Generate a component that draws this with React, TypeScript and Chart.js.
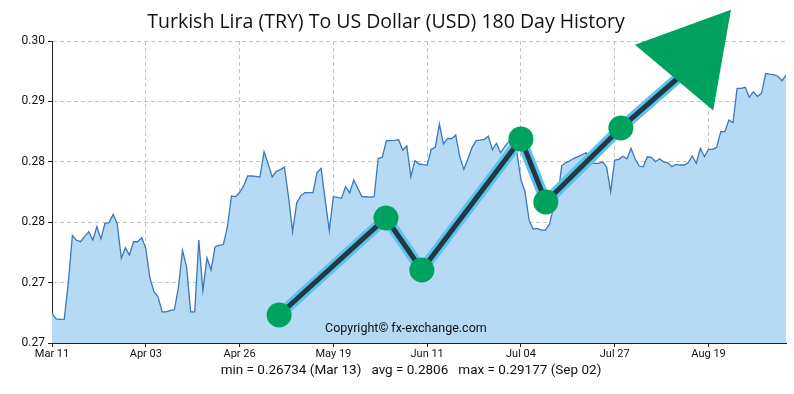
import React, { useEffect, useRef } from "react";
import { Chart, registerables } from "chart.js";

Chart.register(...registerables);

const TITLE = "Turkish Lira (TRY) To US Dollar (USD) 180 Day History";
const STATS = "min = 0.26734 (Mar 13)   avg = 0.2806   max = 0.29177 (Sep 02)";
const COPYRIGHT = "Copyright\u00A9 fx-exchange.com";

// daily TRY->USD rates, day 0 = Mar 11
const rates = [
  0.26795, 0.2674, 0.26734, 0.26736, 0.271, 0.2757, 0.2752, 0.27506, 0.27556, 0.27606,
  0.27523, 0.27655, 0.27533, 0.27689, 0.27696, 0.27778, 0.27682, 0.27341, 0.27447, 0.27374,
  0.27506, 0.27506, 0.27546, 0.2744, 0.2715, 0.2701, 0.2696, 0.2681, 0.2681, 0.26825,
  0.26828, 0.2705, 0.2742, 0.27258, 0.2681, 0.2681, 0.27523, 0.2702, 0.27345, 0.27225,
  0.27457, 0.2747, 0.27478, 0.2765, 0.2796, 0.27954, 0.27995, 0.2806, 0.28159, 0.28159,
  0.28155, 0.28148, 0.284, 0.2828, 0.2815, 0.28205, 0.28222, 0.28248, 0.27953, 0.27606,
  0.2789, 0.27962, 0.27993, 0.27993, 0.27993, 0.28192, 0.28235, 0.2792, 0.27616, 0.27953,
  0.27946, 0.27937, 0.28053, 0.27993, 0.28119, 0.28037, 0.27955, 0.27953, 0.2795, 0.27953,
  0.28335, 0.28345, 0.2851, 0.2851, 0.28512, 0.2852, 0.28417, 0.28457, 0.28152, 0.28311,
  0.28278, 0.28272, 0.28268, 0.28424, 0.28444, 0.28675, 0.28477, 0.28533, 0.2853, 0.28566,
  0.28351, 0.28225, 0.2833, 0.28441, 0.2851, 0.28515, 0.28523, 0.28556, 0.2842, 0.28484,
  0.2839, 0.2845, 0.285, 0.2854, 0.2839, 0.2812, 0.28003, 0.2772, 0.2763, 0.27639,
  0.27622, 0.27622, 0.2768, 0.2785, 0.27953, 0.2826, 0.2829, 0.2831, 0.28335, 0.28351,
  0.2837, 0.2839, 0.2829, 0.28285, 0.28285, 0.283, 0.2825, 0.28003, 0.28318, 0.28325,
  0.28355, 0.2833, 0.28434, 0.2833, 0.28258, 0.2825, 0.2835, 0.28345, 0.28301, 0.2833,
  0.283, 0.2829, 0.28251, 0.28275, 0.28268, 0.28268, 0.2829, 0.28358, 0.28285, 0.28434,
  0.28351, 0.28424, 0.28424, 0.28444, 0.28599, 0.28599, 0.28715, 0.28688, 0.2903, 0.2903,
  0.2904, 0.28941, 0.28996, 0.2895, 0.2898, 0.29177, 0.2917, 0.29165, 0.2915, 0.29106,
  0.29162,
];

const xTickDays = [0, 23, 46, 69, 92, 115, 138, 161];
const xTickLabels = ["Mar 11", "Apr 03", "Apr 26", "May 19", "Jun 11", "Jul 04", "Jul 27", "Aug 19"];
const yTickValues = [0.265, 0.271, 0.277, 0.283, 0.289, 0.295];
const yTickLabels = ["0.27", "0.27", "0.28", "0.28", "0.29", "0.30"];

// decorative trend arrow overlay (in data units)
const trendDays = [55.7, 81.9, 90.7, 115.0, 121.1, 139.5, 155.2];
const trendValues = [0.26778, 0.27742, 0.27225, 0.28527, 0.27901, 0.28636, 0.29192];
const trendDots = [1, 1, 1, 1, 1, 1, 0];
const arrowDays = [157.2];
const arrowValues = [0.29361];

const NARROW = "'Roboto', sans-serif";
const GREEN = "#00a25f";

const textPlugin = {
  id: "fxTexts",
  afterDraw(chart: any) {
    const ctx = chart.ctx as CanvasRenderingContext2D;
    const area = chart.chartArea;
    ctx.save();
    ctx.fillStyle = "#111";
    ctx.textAlign = "center";
    ctx.textBaseline = "middle";
    ctx.font = "19.5px 'Open Sans', sans-serif";
    ctx.fillText(TITLE, chart.width / 2 - 11, 22);
    ctx.font = "13.5px " + NARROW;
    ctx.fillText(STATS, chart.width / 2 + 14, 371);
    ctx.textAlign = "left";
    ctx.font = "12.5px " + NARROW;
    ctx.fillText(COPYRIGHT, 325, area.bottom - 14);
    ctx.restore();
  },
};

export default function App() {
  const ref = useRef<HTMLCanvasElement | null>(null);
  useEffect(() => {
    document.body.style.margin = "0";
    const canvas = ref.current;
    if (!canvas) return;
    const chart = new Chart(canvas, {
      type: "line",
      data: {
        datasets: [
          {
            data: rates.map((v, i) => ({ x: i, y: v })),
            borderColor: "#3b78b6",
            borderWidth: 1.3,
            backgroundColor: "#b6daf4",
            fill: "start",
            pointRadius: 0,
            tension: 0,
            order: 4,
          },
          {
            data: trendDays.map((d, i) => ({ x: d, y: trendValues[i] })),
            borderColor: "#5ec2ee",
            borderWidth: 11,
            borderJoinStyle: "round",
            borderCapStyle: "round",
            pointRadius: 0,
            fill: false,
            order: 3,
          },
          {
            data: trendDays.map((d, i) => ({ x: d, y: trendValues[i] })),
            borderColor: "#1f3a45",
            borderWidth: 5,
            borderJoinStyle: "round",
            pointRadius: trendDots.map((k) => (k ? 12.5 : 0)),
            pointBackgroundColor: GREEN,
            pointBorderWidth: 0,
            pointBorderColor: GREEN,
            fill: false,
            order: 2,
          },
          {
            data: arrowDays.map((d, i) => ({ x: d, y: arrowValues[i] })),
            showLine: false,
            pointStyle: "triangle",
            pointRadius: 59,
            pointRotation: 40,
            pointBackgroundColor: GREEN,
            pointBorderWidth: 0,
            pointBorderColor: GREEN,
            clip: false,
            order: 1,
          } as any,
        ],
      },
      options: {
        responsive: false,
        animation: false,
        devicePixelRatio: 1,
        layout: { autoPadding: false, padding: { left: 0, right: 8, top: 41, bottom: 31 } },
        plugins: {
          legend: { display: false },
          tooltip: { enabled: false },
          title: { display: false },
        },
        scales: {
          x: {
            type: "linear",
            min: 0,
            max: rates.length - 1,
            afterBuildTicks: (scale: any) => {
              scale.ticks = xTickDays.map((v) => ({ value: v }));
            },
            afterFit: (scale: any) => {
              scale.height = 20;
            },
            ticks: {
              autoSkip: false,
              maxRotation: 0,
              padding: 1,
              color: "#111",
              font: { family: NARROW, size: 11 },
              callback: (_v: any, i: number) => xTickLabels[i],
            },
            grid: {
              color: "#c4c4c4",
              lineWidth: 1,
              tickLength: 4,
              tickColor: "#222",
              tickBorderDash: [],
            },
            border: { display: true, color: "#222", width: 1, dash: [4, 3] },
          },
          y: {
            type: "linear",
            min: yTickValues[0],
            max: yTickValues[yTickValues.length - 1],
            afterBuildTicks: (scale: any) => {
              scale.ticks = yTickValues.map((v) => ({ value: v }));
            },
            afterFit: (scale: any) => {
              scale.width = 52;
            },
            ticks: {
              padding: 3,
              color: "#111",
              font: { family: NARROW, size: 12 },
              callback: (_v: any, i: number) => yTickLabels[i],
            },
            grid: {
              color: "#c4c4c4",
              lineWidth: 1,
              tickLength: 4,
              tickColor: "#222",
              tickBorderDash: [],
            },
            border: { display: true, color: "#222", width: 1, dash: [4, 3] },
          },
        },
      },
      plugins: [textPlugin],
    } as any);
    return () => chart.destroy();
  }, []);
  return (
    <div style={{ width: 794, height: 394, background: "#fff" }}>
      <canvas ref={ref} width={794} height={394} style={{ display: "block" }} />
    </div>
  );
}
